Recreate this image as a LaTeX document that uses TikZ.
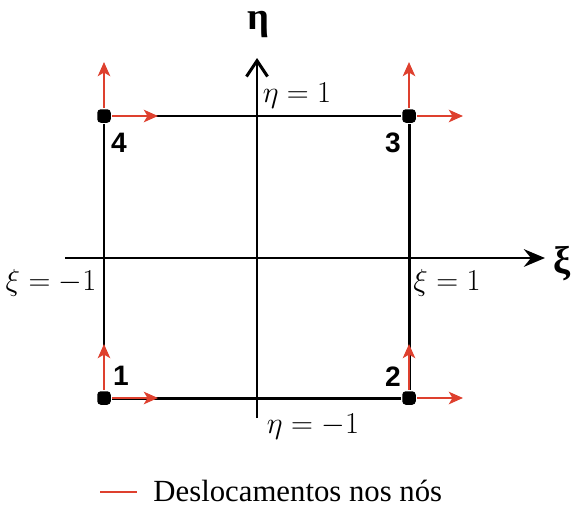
\documentclass[tikz,border=0pt]{standalone}
\usepackage{fontspec}
\setmainfont{Liberation Serif}
\newfontfamily\numfont{Liberation Sans}
\usetikzlibrary{positioning,arrows.meta}
\definecolor{deslred}{RGB}{222,64,46}
\begin{document}
\begin{tikzpicture}[>={Stealth[length=8pt,width=7pt,inset=2pt]}, line width=1.7pt,
  no/.style={rectangle, rounded corners=2pt, fill=black, inner sep=0pt, minimum size=0.27cm},
  desl/.style={->, draw=deslred, line width=1.5pt},
  numlbl/.style={font=\numfont\bfseries\fontsize{16}{18}\selectfont, inner sep=1pt},
  lim/.style={font=\fontsize{16.5}{18}\selectfont, inner sep=1pt},
  eixolbl/.style={font=\bfseries\fontsize{22}{24}\selectfont, inner sep=1pt}]
  \useasboundingbox (0,0) rectangle (11.44,10.12);

  % nós do elemento
  \node[no] (n1) at (2.08,2.16) {};
  \node[no] (n2) at (8.18,2.16) {};
  \node[no] (n3) at (8.18,7.80) {};
  \node[no] (n4) at (2.08,7.80) {};

  % eixos xi e eta
  \coordinate (eb) at (5.14,1.76);
  \coordinate (et) at (5.14,8.96);
  \coordinate (xl) at (1.30,4.96);
  \coordinate (xr) at (10.90,4.96);
  \draw[-{Straight Barb[length=9pt,width=12pt]}] (eb) -- (et);
  \draw[-{Stealth[length=12pt,width=10pt,inset=4pt]}] (xl) -- (xr);
  \node[eixolbl] (eta) at (5.16,9.62) {η};
  \node[eixolbl] (xi) at (11.24,4.84) {ξ};

  % lados do elemento
  \draw (n1) -- (n2) -- (n3) -- (n4) -- (n1);

  % deslocamentos nos nós
  \coordinate[above=1.08cm of n1.center] (u1);
  \coordinate[right=1.08cm of n1.center] (r1);
  \coordinate[above=1.08cm of n2.center] (u2);
  \coordinate[right=1.08cm of n2.center] (r2);
  \coordinate[above=1.08cm of n3.center] (u3);
  \coordinate[right=1.08cm of n3.center] (r3);
  \coordinate[above=1.08cm of n4.center] (u4);
  \coordinate[right=1.08cm of n4.center] (r4);
  \foreach \n in {1,2,3,4} {
    \draw[desl] (n\n) -- (u\n);
    \draw[desl] (n\n) -- (r\n);
  }

  % numeração dos nós
  \node[numlbl] (l1) at (2.42,2.60) {1};
  \node[numlbl] (l2) at (7.86,2.58) {2};
  \node[numlbl] (l3) at (7.86,7.26) {3};
  \node[numlbl] (l4) at (2.38,7.26) {4};

  % limites
  \node[lim] (etap) at (5.94,8.20) {$\eta = 1$};
  \node[lim] (etam) at (6.26,1.58) {$\eta = -1$};
  \node[lim] (xim) at (1.02,4.46) {$\xi = -1$};
  \node[lim] (xip) at (8.94,4.46) {$\xi = 1$};

  % legenda
  \coordinate (lga) at (2.00,0.28);
  \coordinate (lgb) at (2.74,0.28);
  \draw[draw=deslred, line width=1.5pt] (lga) -- (lgb);
  \node[anchor=west, font=\fontsize{17.5}{20}\selectfont, inner sep=0pt] (leg) at (3.04,0.30) {Deslocamentos nos nós};
\end{tikzpicture}
\end{document}
